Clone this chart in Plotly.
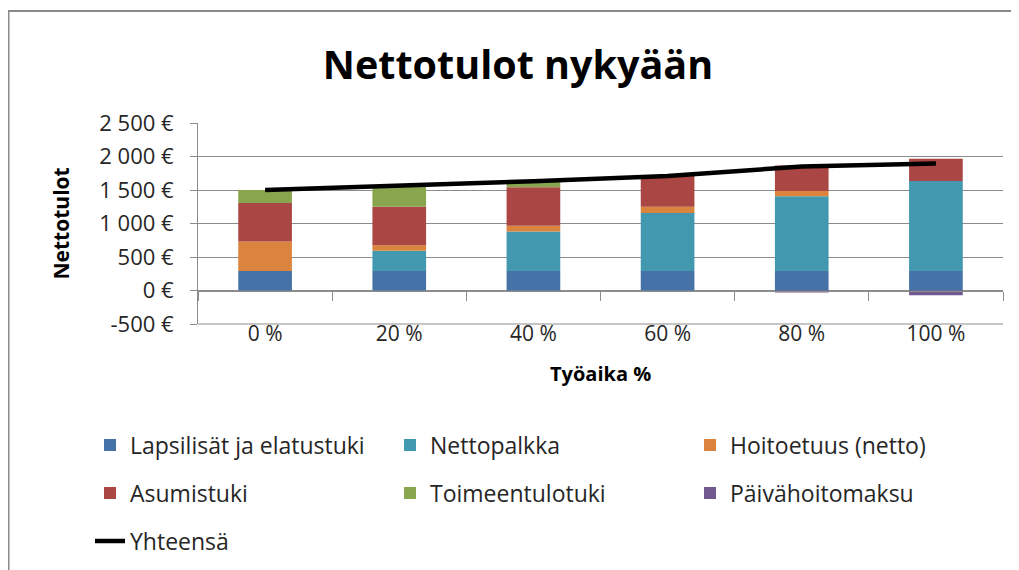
import plotly.graph_objects as go

categories = ["0 %", "20 %", "40 %", "60 %", "80 %", "100 %"]
lapsilisat = [290, 290, 290, 290, 290, 290]
nettopalkka = [0, 305, 590, 865, 1115, 1345]
hoitoetuus = [440, 80, 85, 95, 80, 0]
asumistuki = [575, 575, 575, 465, 380, 330]
toimeentulotuki = [195, 315, 90, 0, 0, 0]
paivahoitomaksu = [0, 0, 0, 0, -30, -70]
yhteensa = [1500, 1560, 1630, 1710, 1850, 1895]

y_tickvals = [-500, 0, 500, 1000, 1500, 2000, 2500]
y_ticktext = ["-500 €", "0 €", "500 €", "1 000 €", "1 500 €", "2 000 €", "2 500 €"]

FONT = "Open Sans"
GRID = "#8c8c8c"
TXT = "#262626"

series = [
    ("Lapsilisät ja elatustuki", lapsilisat, "#4572A7", "legend"),
    ("Nettopalkka", nettopalkka, "#4198AF", "legend"),
    ("Hoitoetuus (netto)", hoitoetuus, "#DB843D", "legend"),
    ("Asumistuki", asumistuki, "#AA4643", "legend2"),
    ("Toimeentulotuki", toimeentulotuki, "#89A54E", "legend2"),
    ("Päivähoitomaksu", paivahoitomaksu, "#71588F", "legend2"),
]

fig = go.Figure()
for name, vals, col, lg in series:
    fig.add_trace(go.Bar(x=categories, y=vals, name=name, marker=dict(color=col, line=dict(width=0)),
                         legend=lg))
fig.add_trace(go.Scatter(x=categories, y=yhteensa, name="Yhteensä", mode="lines",
                         line=dict(color="black", width=4.5), legend="legend3"))

# helper axis that draws the category tick marks on the zero line
fig.add_trace(go.Scatter(x=[None], y=[None], xaxis="x2", showlegend=False, hoverinfo="skip"))

# the page has an 8px body margin: work in page pixels, convert to figure pixels
OFF = 8
W, H = 1019 - OFF, 570 - OFF
PL, PR, PT, PB = 198, 1003, 123, 324          # plot area in page pixels
L, T = PL - OFF, PT - OFF
R, B = W - (PR - OFF), H - (PB - OFF)
pw, ph = PR - PL, PB - PT


def px_x(p):
    return (p - PL) / pw


def px_y(p):
    return (PB - p) / ph


leg_common = dict(orientation="h", xanchor="left", yanchor="middle", entrywidth=255,
                  font=dict(family=FONT, size=23, color=TXT), bgcolor="rgba(0,0,0,0)",
                  traceorder="normal")

fig.update_layout(
    width=W, height=H,
    margin=dict(l=L, r=R, t=T, b=B, autoexpand=False),
    paper_bgcolor="white", plot_bgcolor="white",
    barmode="relative", bargap=0.6,
    title=dict(text="<b>Nettotulot nykyään</b>", x=(518 - OFF) / W, xanchor="center",
               y=1 - (65 - OFF) / H, yanchor="middle",
               font=dict(family=FONT, size=39.5, color="black")),
    xaxis=dict(showgrid=False, ticks="", showline=False, anchor="free", position=5 / ph,
               tickfont=dict(family=FONT, size=21, color=TXT)),
    xaxis2=dict(overlaying="x", anchor="free", position=1 / 6, range=[-0.5, 5.5],
                tickmode="array", tickvals=[-0.5, 0.5, 1.5, 2.5, 3.5, 4.5, 5.5], ticks="outside",
                ticklen=9, tickcolor=GRID, showticklabels=False, showgrid=False, zeroline=False,
                showline=True, linecolor=GRID, linewidth=1, side="bottom"),
    yaxis=dict(range=[-500, 2500], tickmode="array", tickvals=y_tickvals, ticktext=y_ticktext,
               showgrid=True, gridcolor=GRID, gridwidth=1, zeroline=False,
               showline=True, linecolor=GRID, ticks="outside", ticklen=7, tickcolor=GRID,
               ticklabelstandoff=12,
               tickfont=dict(family=FONT, size=22, color=TXT)),
    annotations=[
        dict(text="<b>Nettotulot</b>", xref="paper", yref="paper", x=px_x(60), y=0.5, textangle=-90,
             showarrow=False, xanchor="center", yanchor="middle", font=dict(family=FONT, size=21, color="black")),
        dict(text="<b>Työaika %</b>", xref="paper", yref="paper", x=px_x(600), y=px_y(373),
             showarrow=False, xanchor="center", yanchor="middle", font=dict(family=FONT, size=20, color="black")),
    ],
    legend=dict(x=px_x(90), y=px_y(445), **leg_common),
    legend2=dict(x=px_x(90), y=px_y(493), **leg_common),
    legend3=dict(x=px_x(90), y=px_y(541), **leg_common),
    showlegend=True,
    shapes=[
        dict(type="rect", xref="paper", yref="paper", x0=px_x(OFF + 0.5), x1=px_x(1040),
             y0=px_y(600), y1=px_y(11), line=dict(color="#8a8a8a", width=2), layer="below"),
        dict(type="line", xref="paper", yref="paper", x0=0, x1=1, y0=0, y1=0,
             line=dict(color=GRID, width=1), layer="below"),
    ],
)

fig.write_html("out.html")
